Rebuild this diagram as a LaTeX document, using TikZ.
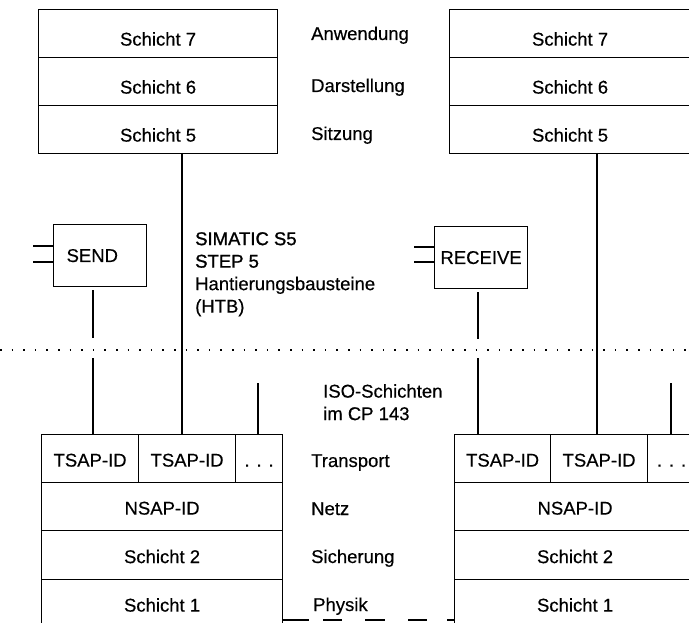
\documentclass[tikz,border=0pt]{standalone}
\usepackage{fontspec}
\setmainfont{Liberation Sans}[FakeBold=0.4]
\newfontfamily\boldish{Liberation Sans}[FakeBold=1.2]
\begin{document}
\begin{tikzpicture}[x=1pt,y=-1pt,
  every node/.style={font=\fontsize{18.5}{22.5}\selectfont, inner sep=0pt},
  toprow/.style={draw, line width=1.2pt, anchor=north west, minimum width=241pt, minimum height=48pt, text height=24pt, text depth=0pt},
  botrow/.style={draw, line width=1.2pt, anchor=north west, minimum width=241pt, minimum height=48pt, text height=16pt, text depth=0pt},
  cell/.style={botrow, minimum width=#1},
  lbl/.style={anchor=base west},
  conn/.style={line width=1.1pt},
  fbox/.style={draw, line width=1.2pt, anchor=north west, minimum width=93pt, minimum height=62pt}
]
\useasboundingbox (0,0) rectangle (689,623);
\clip (0,0) rectangle (689,623);

% top stacks
\node[toprow, minimum width=239pt] (L7) at (38,9) {Schicht 7};
\node[toprow, minimum width=239pt] (L6) at (38,57) {Schicht 6};
\node[toprow, minimum width=239pt] (L5) at (38,105) {Schicht 5};
\node[toprow] (R7) at (449,9) {Schicht 7};
\node[toprow] (R6) at (449,57) {Schicht 6};
\node[toprow] (R5) at (449,105) {Schicht 5};

% labels
\node[lbl] (anw) at (311,40) {Anwendung};
\node[lbl] (dar) at (311,92) {Darstellung};
\node[lbl] (sit) at (311,140) {Sitzung};
\node[anchor=north west, align=left] (sim) at (195,232) {{\boldish SIMATIC S5}\\{\boldish STEP 5}\\Hantierungsbausteine\\(HTB)};
\node[anchor=north west, align=left] (iso) at (323,384) {ISO-Schichten\\im CP 143};
\node[lbl] (tra) at (311,467) {Transport};
\node[lbl] (net) at (311,515) {Netz};
\node[lbl] (sic) at (311,563) {Sicherung};
\node[lbl] (phy) at (313,611) {Physik};

% SEND / RECEIVE
\node[fbox, text width=67pt, align=left, inner xsep=13pt] (send) at (53,224) {SEND};
\node[fbox] (recv) at (434,226) {RECEIVE};
\coordinate (s1a) at (33,246); \coordinate (s2a) at (33,262);
\draw[conn] (s1a) -- (s1a -| send.west);
\draw[conn] (s2a) -- (s2a -| send.west);
\coordinate (r1a) at (414,247); \coordinate (r2a) at (414,262);
\draw[conn] (r1a) -- (r1a -| recv.west);
\draw[conn] (r2a) -- (r2a -| recv.west);

% bottom stacks
\node[cell=97pt] (LT1) at (41,434) {TSAP-ID};
\node[cell=97pt] (LT2) at (138,434) {TSAP-ID};
\node[cell=47pt] (LT3) at (235,434) {. . .};
\node[botrow] (LN) at (41,482) {NSAP-ID};
\node[botrow, minimum height=49pt] (LS2) at (41,530) {Schicht 2};
\node[botrow] (LS1) at (41,579) {Schicht 1};

\node[cell=96pt] (RT1) at (454,434) {TSAP-ID};
\node[cell=97pt] (RT2) at (550,434) {TSAP-ID};
\node[cell=48pt] (RT3) at (647,434) {. . .};
\node[botrow] (RN) at (454,482) {NSAP-ID};
\node[botrow, minimum height=49pt] (RS2) at (454,530) {Schicht 2};
\node[botrow] (RS1) at (454,579) {Schicht 1};

% dotted separator
\coordinate (dl) at (0,350); \coordinate (dr) at (689,350);
\draw[line width=1.6pt, dash pattern=on 1.6pt off 10pt] (dl) -- (dr);

% connectors
\coordinate (la) at (182,153);
\draw[conn] (la) -- (la |- LT2.north);
\coordinate (ra) at (597,153);
\draw[conn] (ra) -- (ra |- RT2.north);
\coordinate (sa) at (93,290); \coordinate (sb) at (93,338); \coordinate (sc) at (93,358);
\draw[conn] (sa) -- (sb);
\draw[conn] (sc) -- (sc |- LT1.north);
\coordinate (ka) at (478,292); \coordinate (kb) at (478,339); \coordinate (kc) at (478,358);
\draw[conn] (ka) -- (kb);
\draw[conn] (kc) -- (kc |- RT1.north);
\coordinate (xa) at (258,383);
\draw[conn] (xa) -- (xa |- LT3.north);
\coordinate (ya) at (671,383);
\draw[conn] (ya) -- (ya |- RT3.north);

% physical medium
\coordinate (pa) at (283,620);
\draw[conn, dash pattern=on 26pt off 14pt on 19pt off 23pt on 20pt off 23pt on 19pt off 20pt on 10pt] (pa) -- (pa -| RS1.west);
\end{tikzpicture}
\end{document}
